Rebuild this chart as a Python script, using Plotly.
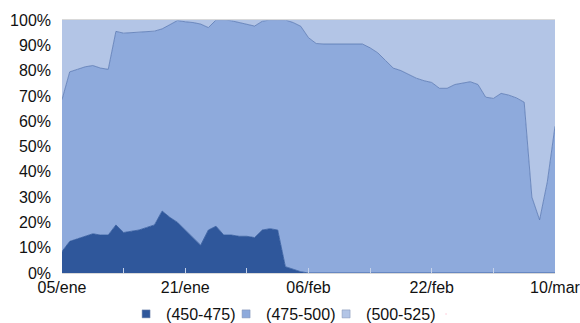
import pandas as pd
import plotly.graph_objects as go

start_date = "2014-01-05"
n_days = 65
dates = pd.date_range(start_date, periods=n_days, freq="D")

series_names = ["(450-475)", "(475-500)", "(500-525)"]

s450 = [8.5, 12.5, 13.5, 14.5, 15.5, 15, 15, 19, 16, 16.5,
        17, 18, 19, 24.5, 22, 20, 17, 14, 11, 17,
        18.5, 15, 15, 14.5, 14.5, 14, 17, 17.5, 17, 2.5,
        1.5, 0.5, 0, 0, 0, 0, 0, 0, 0, 0,
        0, 0, 0, 0, 0, 0, 0, 0, 0, 0,
        0, 0, 0, 0, 0, 0, 0, 0, 0, 0,
        0, 0, 0, 0, 0]

s475 = [60, 67, 67, 67, 66.5, 66, 65.5, 76.5, 78.8, 78.5,
        78, 77.3, 76.6, 72, 76, 79.8, 82.3, 85, 87.4, 80,
        81.5, 85, 84.7, 84.5, 83.7, 83.6, 82.5, 82.5, 83, 97.5,
        97.5, 97, 93, 90.7, 90.5, 90.5, 90.5, 90.5, 90.5, 90.5,
        89, 87, 84, 81, 80, 78.5, 77, 76, 75.3, 73,
        73, 74.5, 75.2, 75.6, 74.5, 69.5, 69, 71, 70.3, 69.2,
        67.5, 30, 21, 36, 58]

s500 = [31.5, 20.5, 19.5, 18.5, 18, 19, 19.5, 4.5, 5.2, 5,
        5, 4.7, 4.4, 3.5, 2, 0.2, 0.7, 1, 1.6, 3,
        0, 0, 0.3, 1, 1.8, 2.4, 0.5, 0, 0, 0,
        1, 2.5, 7, 9.3, 9.5, 9.5, 9.5, 9.5, 9.5, 9.5,
        11, 13, 16, 19, 20, 21.5, 23, 24, 24.7, 27,
        27, 25.5, 24.8, 24.4, 25.5, 30.5, 31, 29, 29.7, 30.8,
        32.5, 70, 79, 64, 42]

x_tick_dates = ["2014-01-05", "2014-01-21", "2014-02-06", "2014-02-22", "2014-03-10"]
x_tick_text = ["05/ene", "21/ene", "06/feb", "22/feb", "10/mar"]
x_minor_dates = ["2014-01-13", "2014-01-29", "2014-02-14", "2014-03-02"]
y_tick_vals = [0, 10, 20, 30, 40, 50, 60, 70, 80, 90, 100]
y_tick_text = ["0%", "10%", "20%", "30%", "40%", "50%", "60%", "70%", "80%", "90%", "100%"]

colors = ["#2f579b", "#8eaadc", "#b3c5e6"]
line_colors = ["#2f579b", "#5877b3", "#b3c5e6"]
values = [s450, s475, s500]

fig = go.Figure()
for name, vals, c, lc in zip(series_names, values, colors, line_colors):
    fig.add_trace(go.Scatter(
        x=dates, y=vals, name=name, mode="lines",
        stackgroup="one", fillcolor=c,
        line=dict(color=lc, width=0.8),
        showlegend=False, hoverinfo="skip",
    ))
# legend entries with square markers
for name, c in zip(series_names, colors):
    fig.add_trace(go.Scatter(
        x=[None], y=[None], mode="markers", name=name,
        marker=dict(symbol="square", size=8, color=c,
                    line=dict(color="#7f8fb0", width=0.5)),
    ))
# empty spacer entry so the last legend label is not clipped by the fixed entry width
fig.add_trace(go.Scatter(
    x=[None], y=[None], mode="markers", name=" ",
    marker=dict(size=1, opacity=0), hoverinfo="skip",
))

font = dict(family="Liberation Sans, Arial, sans-serif", size=16, color="#111111")

fig.update_layout(
    width=580, height=323,
    margin=dict(l=62, r=25, t=20, b=50, autoexpand=False),
    paper_bgcolor="white", plot_bgcolor="white",
    font=font,
    showlegend=True,
    legend=dict(
        orientation="h", x=0.13, xanchor="left",
        y=-0.162, yanchor="middle",
        font=font, traceorder="normal",
        itemwidth=30, tracegroupgap=0, bgcolor="rgba(0,0,0,0)",
        entrywidth=55, entrywidthmode="pixels",
    ),
)
fig.update_xaxes(
    type="date", automargin=False,
    range=[dates[0], dates[-1]],
    tickmode="array", tickvals=x_tick_dates, ticktext=x_tick_text,
    ticks="inside", ticklen=5, tickcolor="#c5d2ea",
    minor=dict(tickvals=x_minor_dates, ticks="inside", ticklen=5, tickcolor="#c5d2ea"),
    showgrid=False, zeroline=False,
    showline=True, linecolor="#d9d9d9", linewidth=1, mirror=True,
    tickfont=font, ticklabeloverflow="allow",
)
fig.update_yaxes(
    range=[0, 100], automargin=False,
    tickmode="array", tickvals=y_tick_vals, ticktext=y_tick_text,
    showgrid=False, zeroline=False,
    showline=False, ticks="",
    ticklabelstandoff=10,
    tickfont=font,
)

fig.write_html("out.html", config={"displayModeBar": False},
               post_script="document.body.style.margin='0px';")
